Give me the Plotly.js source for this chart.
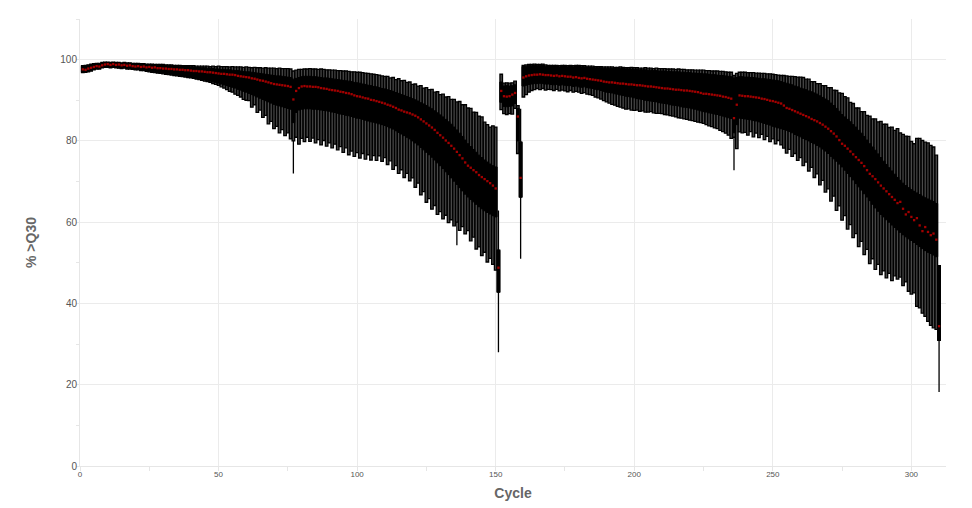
<!DOCTYPE html>
<html><head><meta charset="utf-8">
<script src="https://cdn.plot.ly/plotly-3.0.1.min.js"></script>
<style>html,body{margin:0;padding:0;background:#fff}#chart{width:972px;height:508px}</style>
</head><body><div id="chart"></div>
<script>
// Median % >Q30 per cycle (red dots)
const med = [
97.6,97.5,97.8,98.0,98.2,98.4,98.3,98.6,98.8,98.9,
98.7,98.9,98.7,98.8,98.6,98.7,98.5,98.6,98.4,98.3,
98.4,98.2,98.3,98.1,98.2,98.0,98.1,97.9,97.9,97.8,
97.8,97.7,97.7,97.6,97.6,97.5,97.5,97.4,97.4,97.3,
97.2,97.2,97.1,97.1,97.0,96.9,96.9,96.8,96.7,96.6,
96.5,96.5,96.4,96.3,96.3,96.2,96.0,95.9,95.8,95.7,
95.6,95.4,95.3,95.1,94.9,94.8,94.6,94.4,94.2,94.0,
93.9,93.8,93.7,93.6,93.5,93.3,90.2,92.3,93.0,93.4,
93.5,93.4,93.4,93.3,93.3,93.2,93.0,92.9,92.8,92.6,
92.5,92.4,92.3,92.1,92.0,91.8,91.7,91.5,91.2,91.0,
90.9,90.7,90.5,90.4,90.1,90.0,89.8,89.6,89.4,89.2,
88.9,88.7,88.4,88.1,87.7,87.5,87.2,87.0,86.8,86.5,
86.2,85.8,85.3,84.8,84.3,83.8,83.3,82.7,82.0,81.4,
80.8,80.1,79.5,78.8,78.1,77.3,76.5,75.7,74.7,73.9,
73.4,72.8,72.3,71.6,71.1,70.6,70.1,69.6,69.0,68.3,
48.8,92.3,91.0,90.9,91.0,91.4,91.8,86.0,70.9,95.6,
95.9,96.1,96.2,96.3,96.3,96.4,96.3,96.2,96.2,96.1,
96.0,96.1,95.9,96.0,95.9,95.8,95.8,95.6,95.7,95.5,
95.4,95.5,95.3,95.2,95.1,95.0,94.9,94.8,94.6,94.5,
94.4,94.4,94.3,94.2,94.1,94.1,94.0,93.9,93.9,93.8,
93.7,93.7,93.6,93.5,93.4,93.4,93.3,93.2,93.1,93.0,
92.9,92.9,92.8,92.7,92.6,92.6,92.5,92.4,92.4,92.3,
92.2,92.1,92.0,91.8,91.6,91.6,91.5,91.4,91.3,91.2,
91.1,90.9,90.8,90.6,90.4,85.6,88.9,91.2,91.1,91.0,
91.0,90.9,90.8,90.7,90.6,90.4,90.3,90.1,89.9,89.8,
89.6,89.4,89.2,88.7,88.1,87.9,87.6,87.3,87.0,86.7,
86.4,86.1,85.8,85.4,85.1,84.8,84.4,84.0,83.5,83.0,
82.4,81.8,81.1,80.2,79.3,78.8,78.1,77.4,76.7,76.0,
75.3,74.6,73.8,72.8,71.9,71.3,70.6,69.8,69.0,68.3,
67.6,66.9,66.2,65.5,64.7,65.0,63.3,61.9,62.5,61.3,
60.5,61.0,59.2,57.8,58.8,57.6,56.8,57.2,55.7,34.4
];
// Upper edge of each grey column
const colTop = [
98.5,98.6,98.7,98.9,99.0,99.1,99.1,99.3,99.4,99.4,
99.3,99.4,99.3,99.3,99.2,99.3,99.2,99.2,99.1,99.1,
99.1,99.0,99.0,98.9,98.9,98.9,98.8,98.8,98.8,98.8,
98.7,98.7,98.7,98.6,98.6,98.6,98.5,98.5,98.5,98.5,
98.5,98.4,98.4,98.4,98.4,98.4,98.3,98.4,98.3,98.4,
98.3,98.3,98.3,98.2,98.3,98.2,98.2,98.2,98.1,98.2,
98.1,98.0,98.1,98.0,98.0,97.9,98.0,97.9,97.9,97.9,
97.8,97.9,97.8,97.8,97.8,97.7,97.2,97.4,97.6,97.6,
97.7,97.7,97.8,97.7,97.7,97.6,97.7,97.6,97.5,97.5,
97.4,97.4,97.3,97.3,97.2,97.2,97.1,97.0,97.0,96.9,
96.9,96.8,96.7,96.6,96.5,96.4,96.3,96.2,96.0,95.9,
95.9,95.5,95.6,95.1,95.3,94.8,94.9,94.4,94.5,93.9,
94.0,93.5,93.6,93.0,93.1,92.6,92.7,92.0,92.1,91.4,
91.5,90.8,90.9,90.2,90.2,89.6,89.7,88.9,88.9,88.1,
88.0,87.1,87.0,86.1,85.9,84.6,84.0,83.4,83.7,83.4,
53.1,96.4,94.2,94.3,94.2,94.3,94.7,88.7,79.7,98.6,
98.7,98.8,98.8,98.9,98.8,98.8,98.9,98.7,98.6,98.6,
98.6,98.6,98.5,98.6,98.6,98.5,98.6,98.5,98.6,98.6,
98.5,98.5,98.4,98.4,98.4,98.3,98.3,98.3,98.2,98.2,
98.2,98.2,98.1,98.1,98.2,98.1,98.0,98.0,98.1,98.0,
98.0,97.9,97.9,98.0,97.9,97.9,97.8,97.9,97.8,97.8,
97.8,97.7,97.7,97.7,97.6,97.7,97.6,97.6,97.5,97.5,
97.5,97.4,97.4,97.4,97.4,97.3,97.3,97.2,97.2,97.2,
97.1,97.1,97.0,96.9,96.9,96.1,96.6,96.9,96.9,96.9,
96.8,96.8,96.8,96.7,96.7,96.6,96.6,96.5,96.5,96.4,
96.3,96.2,96.1,96.1,96.0,95.9,95.9,95.8,95.7,95.7,
95.6,95.2,95.2,94.6,94.6,94.1,94.1,93.6,93.6,93.1,
93.1,92.5,92.4,91.8,91.7,90.9,90.6,89.5,89.2,88.1,
88.1,87.2,87.2,86.3,86.1,85.4,85.4,84.7,84.8,84.1,
84.1,83.3,83.4,82.6,83.0,82.0,81.6,81.2,81.1,79.9,
79.3,80.6,80.6,80.1,79.7,79.5,78.9,78.5,76.5,49.3
];
// Lower edge of each grey column
const colBot = [
96.8,96.9,97.0,97.2,97.5,97.7,97.7,98.0,98.1,98.1,
98.0,98.1,98.0,97.9,97.8,97.9,97.7,97.7,97.6,97.5,
97.5,97.3,97.3,97.1,97.0,96.9,96.8,96.7,96.6,96.5,
96.4,96.3,96.2,96.1,96.0,95.9,95.8,95.7,95.6,95.5,
95.4,95.2,95.1,94.9,94.7,94.6,94.4,94.1,93.9,93.7,
93.3,93.0,92.6,92.2,92.0,91.5,91.2,90.8,90.2,90.0,
89.9,88.3,88.9,87.0,87.6,85.8,86.3,84.2,84.8,83.0,
83.6,82.0,82.8,81.3,82.0,80.5,80.0,80.9,79.2,80.6,
79.8,80.9,79.9,80.7,79.5,80.3,79.0,80.1,78.7,79.5,
78.3,79.2,77.8,78.6,77.2,78.3,76.6,77.5,76.2,77.1,
75.8,76.9,75.5,76.6,75.3,76.4,75.2,76.3,75.0,75.9,
74.2,75.1,73.0,73.9,72.0,72.9,71.0,72.0,70.2,70.9,
68.6,69.6,66.7,67.5,64.9,65.8,63.2,64.1,61.9,62.6,
60.8,61.7,59.9,60.6,59.1,60.0,58.0,58.9,57.1,57.9,
55.4,56.3,53.4,53.9,51.8,52.6,50.2,51.1,49.6,48.2,
42.8,87.7,86.7,86.5,86.7,86.6,88.0,76.9,66.2,90.8,
91.4,92.0,92.4,92.6,92.9,92.6,92.9,92.5,92.7,92.6,
92.4,92.7,92.3,92.5,92.3,92.1,92.4,92.0,92.2,92.0,
91.7,91.9,91.5,91.4,91.2,90.8,90.6,90.3,89.9,89.6,
89.3,89.0,88.8,88.5,88.3,88.1,87.8,87.9,87.6,87.5,
87.6,87.3,87.4,87.1,87.1,87.2,86.9,86.8,86.8,86.7,
86.5,86.4,86.2,86.1,85.9,85.7,85.6,85.4,85.3,85.1,
85.0,84.8,84.6,84.5,84.3,84.0,83.7,83.5,83.2,83.0,
82.6,82.3,81.9,81.4,80.6,80.9,78.1,82.2,82.0,82.1,
81.4,82.3,81.0,81.9,80.8,81.6,80.3,81.1,79.8,80.5,
79.3,80.1,79.0,78.2,77.0,77.9,76.2,76.9,75.2,75.9,
73.9,74.8,72.6,73.5,71.0,71.9,69.2,70.3,67.4,68.2,
65.2,66.4,62.9,64.0,60.5,61.6,58.3,59.4,56.2,57.2,
54.0,55.3,52.0,53.3,49.8,51.0,48.4,49.6,47.1,48.0,
46.3,47.4,45.6,46.8,46.0,46.5,44.4,45.3,43.0,42.3,
42.6,39.3,38.9,37.6,36.8,35.6,34.6,34.0,33.6,30.9
];
// Upper edge of the dark central band
const bandHi = [
98.4,98.5,98.6,98.8,98.9,99.0,99.0,99.2,99.3,99.3,
99.2,99.3,99.2,99.2,99.1,99.2,99.1,99.1,99.0,99.0,
99.0,98.9,98.9,98.8,98.8,98.8,98.7,98.7,98.7,98.6,
98.6,98.5,98.5,98.5,98.4,98.4,98.3,98.3,98.3,98.2,
98.2,98.1,98.1,98.0,98.0,97.9,97.9,97.8,97.7,97.7,
97.6,97.6,97.5,97.5,97.4,97.3,97.3,97.2,97.1,97.0,
97.0,96.9,96.8,96.7,96.6,96.5,96.4,96.3,96.2,96.1,
96.0,96.0,95.9,95.8,95.7,95.6,95.2,95.4,95.6,95.8,
95.9,95.9,95.9,95.8,95.8,95.7,95.6,95.5,95.5,95.4,
95.3,95.2,95.1,95.0,94.9,94.8,94.7,94.6,94.4,94.3,
94.2,94.0,93.9,93.7,93.6,93.4,93.3,93.1,92.9,92.8,
92.6,92.4,92.2,91.9,91.7,91.4,91.2,90.9,90.7,90.4,
90.1,89.8,89.4,89.1,88.7,88.3,87.9,87.4,86.9,86.4,
85.9,85.3,84.7,84.1,83.4,82.7,81.9,81.1,80.2,79.3,
78.6,77.9,77.2,76.5,75.9,75.3,74.8,74.3,73.9,73.6,
53.1,94.5,93.5,93.6,93.5,93.6,93.8,88.0,79.7,98.3,
98.4,98.5,98.5,98.6,98.5,98.5,98.6,98.4,98.3,98.3,
98.3,98.3,98.2,98.3,98.3,98.2,98.3,98.2,98.3,98.3,
98.2,98.2,98.1,98.1,98.1,98.0,98.0,98.0,97.9,97.9,
97.9,97.9,97.8,97.8,97.9,97.8,97.7,97.7,97.7,97.6,
97.6,97.5,97.5,97.5,97.4,97.4,97.3,97.3,97.2,97.2,
97.2,97.1,97.1,97.0,97.0,97.0,96.9,96.9,96.8,96.8,
96.7,96.7,96.6,96.6,96.5,96.5,96.4,96.3,96.3,96.2,
96.1,96.1,96.0,95.9,95.8,95.5,95.6,95.8,95.8,95.7,
95.7,95.6,95.6,95.5,95.4,95.3,95.3,95.2,95.1,95.0,
94.9,94.8,94.6,94.4,94.2,94.0,93.8,93.5,93.3,93.0,
92.8,92.6,92.3,92.1,91.8,91.5,91.1,90.7,90.3,89.9,
89.3,88.7,88.0,87.3,86.5,85.9,85.3,84.7,84.0,83.4,
82.6,81.9,81.1,80.2,79.3,78.5,77.7,76.8,75.9,75.0,
74.2,73.4,72.6,71.8,71.0,70.3,69.6,69.0,68.5,68.0,
67.6,67.2,66.8,66.4,66.0,65.7,65.4,65.1,64.6,49.3
];
// Lower edge of the dark central band
const bandLo = [
96.9,97.0,97.1,97.3,97.6,97.8,97.8,98.1,98.2,98.2,
98.1,98.2,98.1,98.0,97.9,98.0,97.8,97.8,97.7,97.6,
97.6,97.4,97.4,97.2,97.2,97.0,97.0,96.8,96.8,96.7,
96.6,96.5,96.4,96.3,96.2,96.1,96.0,95.9,95.8,95.7,
95.5,95.4,95.3,95.1,95.0,94.8,94.7,94.5,94.4,94.2,
94.0,93.8,93.6,93.4,93.2,93.0,92.7,92.5,92.2,92.0,
91.7,91.4,91.1,90.8,90.5,90.2,89.9,89.6,89.3,89.0,
88.8,88.6,88.4,88.2,88.0,87.8,84.5,87.0,87.6,87.8,
87.9,87.9,87.9,87.8,87.8,87.7,87.6,87.5,87.4,87.3,
87.1,87.0,86.8,86.6,86.5,86.3,86.2,86.0,85.8,85.6,
85.5,85.3,85.1,84.9,84.7,84.6,84.4,84.2,84.0,83.8,
83.5,83.2,82.9,82.5,82.1,81.7,81.3,80.9,80.5,80.0,
79.5,79.0,78.4,77.8,77.2,76.6,76.0,75.3,74.6,73.9,
73.2,72.4,71.7,70.9,70.1,69.3,68.5,67.7,66.9,66.2,
65.6,65.0,64.4,63.8,63.3,62.8,62.4,62.0,61.6,61.3,
42.8,89.5,88.5,88.4,88.5,88.6,89.2,80.0,66.2,93.5,
93.7,93.9,94.0,94.1,94.1,94.2,94.1,94.0,94.0,93.9,
93.8,93.9,93.7,93.8,93.7,93.6,93.6,93.4,93.5,93.3,
93.2,93.3,93.1,93.0,92.9,92.7,92.6,92.4,92.2,92.0,
91.9,91.8,91.6,91.5,91.3,91.2,91.0,90.9,90.8,90.6,
90.4,90.3,90.2,90.0,89.9,89.8,89.7,89.6,89.4,89.3,
89.2,89.1,88.9,88.8,88.7,88.6,88.4,88.3,88.2,88.1,
87.9,87.8,87.6,87.4,87.2,87.1,86.9,86.8,86.6,86.5,
86.3,86.1,85.9,85.7,85.5,82.0,84.0,85.6,85.5,85.4,
85.3,85.2,85.0,84.9,84.7,84.5,84.3,84.1,83.9,83.6,
83.4,83.2,83.0,82.8,82.6,82.3,82.0,81.6,81.3,81.0,
80.6,80.3,80.0,79.6,79.3,78.9,78.5,78.0,77.5,76.9,
76.2,75.6,75.0,74.3,73.6,72.8,72.0,71.2,70.4,69.5,
68.7,67.9,67.0,66.2,65.3,64.4,63.5,62.7,61.9,61.3,
60.6,60.0,59.3,58.7,58.1,57.5,56.9,56.4,55.9,55.5,
55.0,54.5,54.0,53.5,53.0,52.6,52.3,51.9,51.5,30.9
];
// Cycles with whiskers reaching beyond their column
const lowWhiskerCycles = [77, 136, 151, 159, 236, 310];
const lowWhiskerValues = [72.0, 54.3, 28.0, 51.0, 72.8, 18.2];
const highWhiskerCycles = [151, 159];
const highWhiskerValues = [62.9, 87.9];

const xTickValues = [0, 50, 100, 150, 200, 250, 300];
const yTickValues = [0, 20, 40, 60, 80, 100];

const cycles = med.map((_, i) => i + 1);
const lowerFence = colBot.slice();
lowWhiskerCycles.forEach((c, k) => { lowerFence[c - 1] = lowWhiskerValues[k]; });
const upperFence = colTop.slice();
highWhiskerCycles.forEach((c, k) => { upperFence[c - 1] = highWhiskerValues[k]; });

const outer = {
  type: 'box', x: cycles, q1: colBot, median: med, q3: colTop,
  lowerfence: lowerFence, upperfence: upperFence,
  width: 0.92, whiskerwidth: 0, boxpoints: false,
  fillcolor: '#4a4a4a', line: {color: '#000', width: 1.3},
  hoverinfo: 'skip', showlegend: false
};
const inner = {
  type: 'box', x: cycles, q1: bandLo, median: med, q3: bandHi,
  lowerfence: bandLo, upperfence: bandHi,
  width: 1.0, whiskerwidth: 0, boxpoints: false,
  fillcolor: '#000', line: {color: '#000', width: 1},
  hoverinfo: 'skip', showlegend: false
};
const medians = {
  type: 'scatter', mode: 'markers', x: cycles, y: med,
  marker: {color: '#a30000', size: 2.3, symbol: 'square', line: {width: 0}},
  hoverinfo: 'skip', showlegend: false
};

const layout = {
  width: 972, height: 508,
  margin: {l: 80, r: 26, t: 19, b: 42},
  paper_bgcolor: '#fff', plot_bgcolor: '#fff',
  showlegend: false, boxmode: 'overlay',
  font: {family: 'Liberation Sans, Arial, sans-serif', color: '#555'},
  xaxis: {
    range: [0, 312.5], tickvals: xTickValues, ticks: '',
    tickfont: {size: 8, color: '#555'},
    showgrid: true, gridcolor: '#ebebeb', gridwidth: 1, zeroline: false,
    showline: true, linecolor: '#e6e6e6', linewidth: 1,
    minor: {ticks: 'outside', ticklen: 4, tickcolor: '#e6e6e6', dtick: 25, tick0: 0, showgrid: false},
    title: {text: 'Cycle', font: {size: 14, color: '#666', weight: 700}, standoff: 10}
  },
  yaxis: {
    range: [0, 110], tickvals: yTickValues, ticks: '',
    tickfont: {size: 10, color: '#555'},
    showgrid: true, gridcolor: '#ebebeb', gridwidth: 1, zeroline: false,
    showline: true, linecolor: '#e6e6e6', linewidth: 1,
    minor: {ticks: 'outside', ticklen: 3, tickcolor: '#e6e6e6', dtick: 10, tick0: 0, showgrid: false},
    title: {text: '% >Q30', font: {size: 14, color: '#666', weight: 700}, standoff: 20}
  }
};

Plotly.newPlot('chart', [outer, inner, medians], layout, {staticPlot: true, displayModeBar: false});
</script>
</body></html>
